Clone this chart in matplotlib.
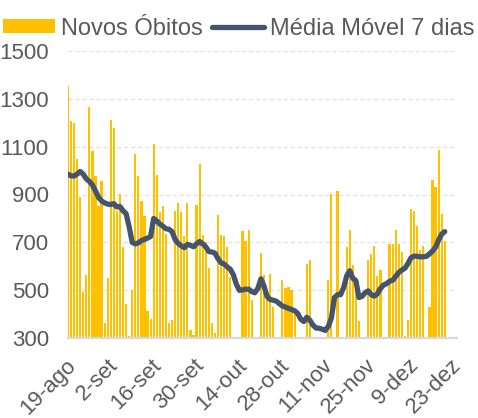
import numpy as np
import matplotlib
matplotlib.use("Agg")
import matplotlib.pyplot as plt
import matplotlib.transforms as mtransforms
from matplotlib.patches import Patch
from matplotlib.lines import Line2D

plt.rcParams['font.family'] = ['Liberation Sans', 'DejaVu Sans']

# dia 0 = 19-ago; o primeiro valor (18-ago) fica quase todo fora do eixo
dia_inicial = -1

novos_obitos = [
    1352,
    1206, 1198, 1050, 888, 494, 563, 1265, 1081, 978, 851,
    955, 365, 550, 1209, 1179, 830, 902, 680, 445, 310,
    500, 1071, 978, 872, 812, 413, 379, 1110, 982, 826,
    854, 736, 362, 376, 833, 865, 826, 726, 865, 335,
    314, 858, 1027, 732, 701, 595, 362, 324, 816, 732,
    726, 680, 556, 250, 250, 307, 746, 708, 750, 459,
    250, 250, 657, 563, 500, 567, 429, 250, 250, 545,
    508, 512, 503, 411, 250, 250, 250, 609, 628, 250,
    250, 250, 250, 250, 542, 902, 250, 916, 250, 250,
    683, 753, 605, 556, 373, 250, 250, 628, 653, 687,
    560, 584, 250, 250, 694, 694, 750, 692, 660, 310,
    376, 840, 833, 768, 667, 685, 250, 430, 962, 933,
    1086, 819, 704,
]

media_movel = [
    985,
    978, 977, 985, 996, 985, 965, 955, 940, 915, 888,
    873, 865, 860, 858, 862, 848, 850, 832, 820, 765,
    700, 694, 698, 708, 713, 718, 725, 800, 790, 777,
    768, 757, 755, 745, 712, 696, 686, 678, 692, 688,
    682, 694, 704, 694, 682, 662, 660, 655, 632, 615,
    610, 598, 588, 565, 525, 500, 502, 505, 505, 495,
    490, 508, 548, 518, 475, 462, 459, 455, 445, 435,
    430, 425, 420, 415, 404, 380, 370, 388, 375, 355,
    343, 342, 338, 333, 350, 385, 470, 482, 482, 512,
    560, 582, 550, 540, 470, 475, 490, 498, 482, 476,
    485, 508, 522, 528, 538, 542, 558, 575, 585, 592,
    612, 636, 643, 642, 640, 640, 642, 652, 664, 680,
    710, 735, 745,
]

rotulos_x = ['19-ago', '2-set', '16-set', '30-set', '14-out',
             '28-out', '11-nov', '25-nov', '9-dez', '23-dez']
posicoes_x = list(range(0, 127, 14))
ticks_y = [300, 500, 700, 900, 1100, 1300, 1500]

amarelo = '#FFC000'
azul = '#44546A'
cinza_txt = '#595959'

dias = np.arange(dia_inicial, dia_inicial + len(novos_obitos))

W, H = 478, 418
fig = plt.figure(figsize=(W / 100, H / 100), dpi=100)
x0, x1, y_top, y_bot = 68.2, 457, 50.7, 338.3
ax = fig.add_axes([x0 / W, 1 - y_bot / H, (x1 - x0) / W, (y_bot - y_top) / H])

ax.bar(dias, novos_obitos, width=0.72, color=amarelo, zorder=2)
ax.plot(dias, media_movel, color=azul, lw=3.8, solid_capstyle='round',
        solid_joinstyle='round', zorder=3)

ax.set_xlim(-0.9, 126)
ax.set_ylim(300, 1500)
ax.set_yticks(ticks_y)
ax.set_yticklabels([str(v) for v in ticks_y])
ax.set_xticks(posicoes_x)
ax.set_xticklabels(rotulos_x, rotation=45, ha='right', va='top',
                   rotation_mode='anchor')
ax.tick_params(axis='both', length=0, labelsize=16, labelcolor=cinza_txt)
ax.tick_params(axis='y', pad=14)
ax.tick_params(axis='x', pad=9)

# desloca os rotulos do eixo x um pouco para a esquerda e para baixo
desloc = mtransforms.ScaledTranslation(-6 / 100, -4 / 100, fig.dpi_scale_trans)
for lbl in ax.get_xticklabels():
    lbl.set_transform(lbl.get_transform() + desloc)

ax.grid(axis='y', color='#E3E3E3', lw=1, linestyle=(0, (3, 2)), zorder=0)
for s in ['left', 'right', 'top']:
    ax.spines[s].set_visible(False)
ax.spines['bottom'].set_color('#D9D9D9')
ax.spines['bottom'].set_linewidth(1.6)
ax.spines['bottom'].set_zorder(4)

handles = [Patch(facecolor=amarelo, edgecolor='none'),
           Line2D([0], [0], color=azul, lw=3.8, solid_capstyle='round')]
fig.legend(handles, ['Novos Óbitos', 'Média Móvel 7 dias'], loc='upper center',
           bbox_to_anchor=(0.5, 1.0), ncol=2, frameon=False, fontsize=17,
           handlelength=2.2, handleheight=0.55, handletextpad=0.25,
           columnspacing=0.4, labelcolor=cinza_txt, borderaxespad=0.35)

fig.savefig('out.png', dpi=100)
